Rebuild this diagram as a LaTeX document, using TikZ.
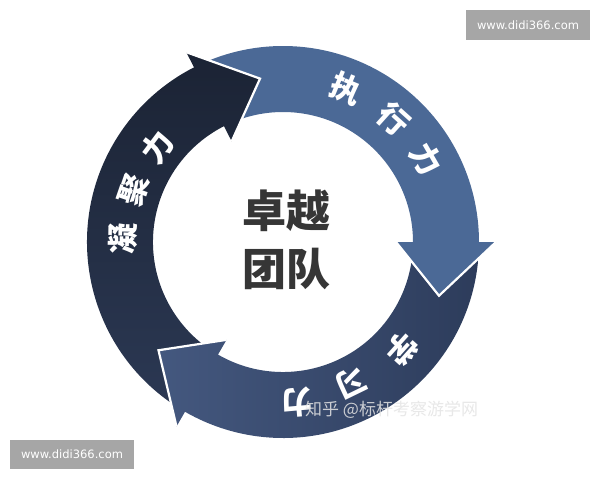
\documentclass[tikz,border=0pt]{standalone}
\usepackage{fontspec}
\newfontfamily\cjk{Noto Sans CJK SC}
\newfontfamily\wmfont{DejaVu Sans}
\definecolor{blueA}{HTML}{4B6996}
\definecolor{navyL}{HTML}{44587F}
\definecolor{navyR}{HTML}{2D3C5B}
\definecolor{darkT}{HTML}{1B2334}
\definecolor{darkB}{HTML}{2B3853}
\definecolor{centertext}{HTML}{363636}
\definecolor{wmgray}{HTML}{A6A6A6}
\definecolor{wmtext}{HTML}{E4E4E4}
\tikzset{
  headedge/.style={draw=white, line width=2.2pt, line join=miter},
  ringtext/.style={font=\cjk\bfseries\fontsize{31}{31}\selectfont, text=white, inner sep=0pt},
  centerlabel/.style={font=\cjk\bfseries\fontsize{44}{44}\selectfont, text=centertext, inner sep=0pt},
  wmbox/.style={fill=wmgray, text=white, font=\wmfont\fontsize{11.5}{12}\selectfont, minimum width=124pt, minimum height=29.5pt, inner sep=0pt},
  wmark/.style={font=\cjk\fontsize{17}{17}\selectfont, text=wmtext, text opacity=0.85, inner sep=0pt, anchor=west}
}
\begin{document}
\begin{tikzpicture}
\useasboundingbox[fill=white] (-283pt,242pt) rectangle (317pt,-238pt);

% top arrow (blue)
\fill[blueA] (113:196pt) arc[start angle=113, end angle=0, radius=196pt] -- (0:213pt) -- (-19:165pt) -- (0:113pt) -- (0:130pt) arc[start angle=0, end angle=113, radius=130pt] -- cycle;

% left arrow (dark)
\shade[top color=darkT, bottom color=darkB] (236:196pt) arc[start angle=236, end angle=117, radius=196pt] -- (117:213pt) -- (98:165pt) -- (117:113pt) -- (117:130pt) arc[start angle=117, end angle=236, radius=130pt] -- cycle;
\draw[headedge] (117:213pt) -- (98:165pt) -- (117:113pt);

% bottom arrow (navy)
\shade[left color=navyL, right color=navyR] (-4:196pt) arc[start angle=-4, end angle=-120, radius=196pt] -- (-120:213pt) -- (-139:165pt) -- (-120:113pt) -- (-120:130pt) arc[start angle=-120, end angle=-4, radius=130pt] -- cycle;
\draw[headedge] (-120:213pt) -- (-139:165pt) -- (-120:113pt);

% blue head on top
\fill[blueA] (0:213pt) -- (-19:165pt) -- (0:113pt) -- cycle;
\draw[headedge] (0:213pt) -- (-19:165pt) -- (0:113pt);

% ring labels
\node[ringtext, rotate=-22.4] (t1) at (67.6:166pt) {执};
\node[ringtext, rotate=-42] (t2) at (48:165pt) {行};
\node[ringtext, rotate=-60] (t3) at (30:166pt) {力};

\node[ringtext, rotate=89] (l1) at (179:160pt) {凝};
\node[ringtext, rotate=71] (l2) at (161:158pt) {聚};
\node[ringtext, rotate=53] (l3) at (143:157pt) {力};

\node[ringtext, rotate=-132] (b1) at (-42:160pt) {学};
\node[ringtext, rotate=-154] (b2) at (-64:156pt) {习};
\node[ringtext, rotate=-175] (b3) at (-85:161pt) {力};

% center
\node[centerlabel] (c1) at (4pt,31pt) {卓越};
\node[centerlabel] (c2) at (4pt,-27pt) {团队};

% watermarks
\node[wmark] (zh) at (22pt,-168pt) {知乎 @标杆考察游学网};
\node[wmbox] (wm1) at (245pt,217pt) {www.didi366.com};
\node[wmbox] (wm2) at (-211pt,-212.5pt) {www.didi366.com};
\end{tikzpicture}
\end{document}
